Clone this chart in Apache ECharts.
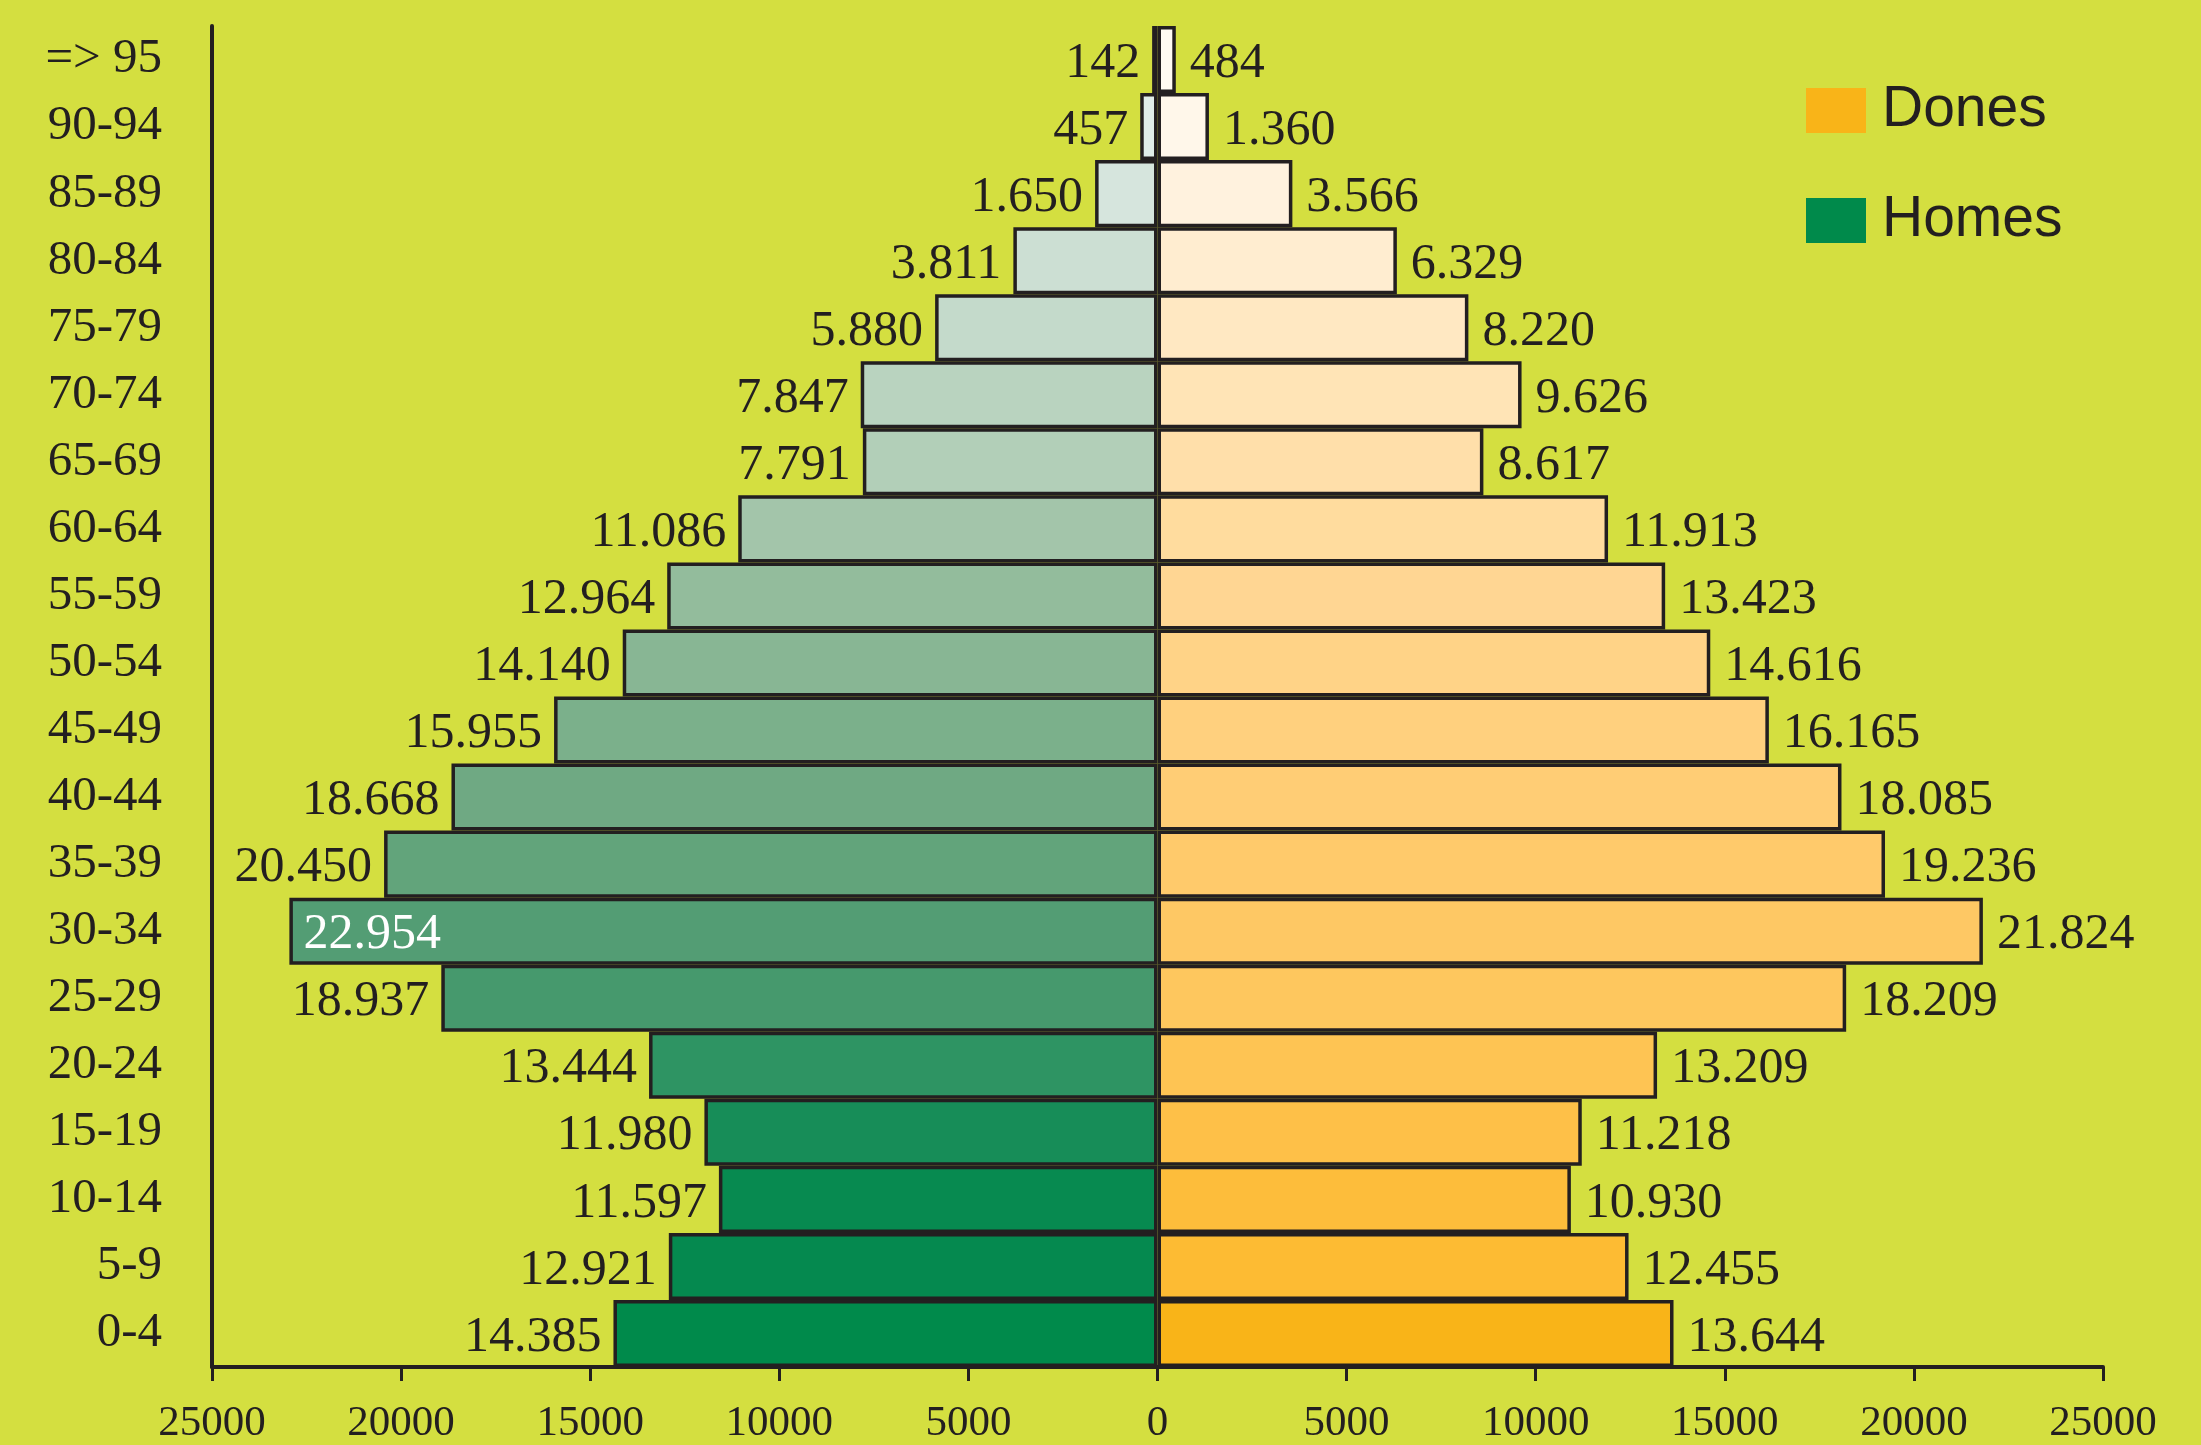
<!DOCTYPE html>
<html>
<head>
    <meta charset="utf-8">
    <title>Piràmide de població</title>
    <script src="https://cdn.jsdelivr.net/npm/echarts@6/dist/echarts.min.js"></script>
    <style>
        html, body { margin: 0; padding: 0; background: #d4df40; }
    </style>
</head>
<body>
    <div id="main" style="width: 2201px;height:1445px;"></div>
    <script type="text/javascript">
        // franges d'edat, de baix a dalt
        var categories = ['0-4', '5-9', '10-14', '15-19', '20-24', '25-29', '30-34', '35-39', '40-44',
            '45-49', '50-54', '55-59', '60-64', '65-69', '70-74', '75-79', '80-84', '85-89', '90-94', '=> 95'];
        var homes = [14385, 12921, 11597, 11980, 13444, 18937, 22954, 20450, 18668,
            15955, 14140, 12964, 11086, 7791, 7847, 5880, 3811, 1650, 457, 142];
        var dones = [13644, 12455, 10930, 11218, 13209, 18209, 21824, 19236, 18085,
            16165, 14616, 13423, 11913, 8617, 9626, 8220, 6329, 3566, 1360, 484];
        var xTicks = [-25000, -20000, -15000, -10000, -5000, 0, 5000, 10000, 15000, 20000, 25000];

        // colors per fila (de baix a dalt)
        var homesColors = ['#008a4b', '#05894f', '#078a50', '#178d58', '#2e9463', '#46996d', '#539d74',
            '#62a47b', '#6fa983', '#7bb08b', '#88b694', '#93bc9c', '#a3c5aa', '#b2cfb8', '#b9d3bf',
            '#c4dacb', '#ccdfd3', '#d6e5dd', '#e0ede9', '#eaf3f1'];
        var donesColors = ['#f9b418', '#fdbb33', '#fdbd3b', '#fec048', '#fec453', '#fec75e', '#fec864',
            '#ffca6b', '#ffcd75', '#ffd07e', '#ffd387', '#ffd693', '#ffdc9e', '#ffdfaa', '#ffe4b6',
            '#ffe8c2', '#ffedd0', '#fff2de', '#fff7ea', '#fffaf2'];

        var ink = '#231f20';
        var serif = '"Liberation Serif", "DejaVu Serif", serif';

        function fmt(v) {
            return String(Math.abs(v)).replace(/\B(?=(\d{3})+(?!\d))/g, '.');
        }

        var maxHomes = Math.max.apply(null, homes);

        var homesData = homes.map(function (v, i) {
            var item = { value: -v, itemStyle: { color: homesColors[i] } };
            if (v === maxHomes) {
                item.label = { position: 'insideLeft', color: '#ffffff', distance: 14 };
            }
            return item;
        });
        var donesData = dones.map(function (v, i) {
            return { value: v, itemStyle: { color: donesColors[i] } };
        });

        var myChart = echarts.init(document.getElementById('main'));

        var option = {
            backgroundColor: '#d4df40',
            animation: false,
            legend: {
                orient: 'vertical',
                left: 1801,
                top: 77,
                itemWidth: 60,
                itemHeight: 45,
                itemGap: 53,
                icon: 'rect',
                data: ['Dones', 'Homes'],
                itemStyle: { borderWidth: 0 },
                textStyle: {
                    fontFamily: '"Liberation Sans", Arial, sans-serif',
                    fontSize: 57,
                    color: ink,
                    padding: [0, 0, 0, 11]
                }
            },
            grid: {
                left: 212,
                right: 98,
                top: 26,
                bottom: 76,
                containLabel: false
            },
            xAxis: {
                type: 'value',
                min: xTicks[0],
                max: xTicks[xTicks.length - 1],
                interval: 5000,
                axisLine: { show: true, lineStyle: { color: ink, width: 4 } },
                axisTick: { show: true, length: 14, lineStyle: { color: ink, width: 3 } },
                splitLine: { show: false },
                axisLabel: {
                    margin: 35,
                    color: ink,
                    fontFamily: serif,
                    fontSize: 43,
                    formatter: function (v) { return String(Math.abs(v)); }
                }
            },
            yAxis: {
                type: 'category',
                data: categories,
                axisLine: { show: true, onZero: false, lineStyle: { color: ink, width: 4 } },
                axisTick: { show: false },
                axisLabel: {
                    margin: 50,
                    color: ink,
                    fontFamily: serif,
                    fontSize: 49,
                    padding: [0, 0, 28, 0]
                }
            },
            series: [
                {
                    name: 'Homes',
                    type: 'bar',
                    barWidth: '100%',
                    barGap: '-100%',
                    itemStyle: { color: '#008a4b', borderColor: ink, borderWidth: 3.5 },
                    label: {
                        show: true,
                        position: 'left',
                        distance: 12,
                        offset: [0, 4],
                        color: ink,
                        fontFamily: serif,
                        fontSize: 50,
                        formatter: function (p) { return fmt(p.value); }
                    },
                    data: homesData
                },
                {
                    name: 'Dones',
                    type: 'bar',
                    barWidth: '100%',
                    barGap: '-100%',
                    itemStyle: { color: '#f9b418', borderColor: ink, borderWidth: 3.5 },
                    label: {
                        show: true,
                        position: 'right',
                        distance: 14,
                        offset: [0, 4],
                        color: ink,
                        fontFamily: serif,
                        fontSize: 50,
                        formatter: function (p) { return fmt(p.value); }
                    },
                    data: donesData
                }
            ]
        };

        myChart.setOption(option);
    </script>
</body>
</html>
